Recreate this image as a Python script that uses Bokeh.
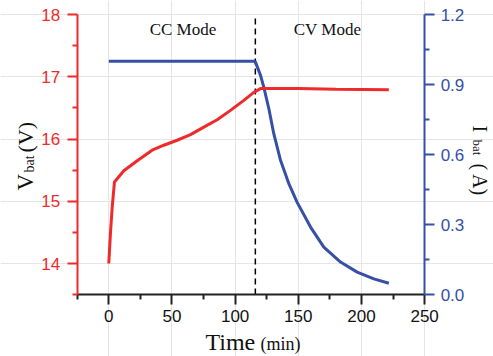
import math
from bokeh.plotting import figure
from bokeh.models import Range1d, LinearAxis, FixedTicker, PrintfTickFormatter, Label
from bokeh.embed import file_html
from bokeh.resources import INLINE

# ---- data ----
v_time = [0, 1.3, 2.7, 4.5, 11.9, 22.5, 34.3, 43.6, 54.1, 64.7, 75.2, 85.8, 96.3, 106.9, 114.8, 120.1, 150, 180, 221.7]
v_bat = [14.0, 14.48, 14.90, 15.31, 15.49, 15.65, 15.82, 15.90, 15.98, 16.07, 16.19, 16.31, 16.46, 16.62, 16.75, 16.81, 16.81, 16.80, 16.79]

i_time = [0, 50, 100, 114.8, 116.1, 120.1, 122.7, 126.7, 130.6, 136.0, 142.6, 149.0, 159.7, 170.2, 183.4, 196.6, 209.8, 221.7]
i_bat = [1.0, 1.0, 1.0, 1.0, 0.996, 0.939, 0.889, 0.796, 0.689, 0.574, 0.474, 0.396, 0.289, 0.203, 0.139, 0.096, 0.067, 0.048]

x_major = [0, 50, 100, 150, 200, 250]
x_minor = [-25, 25, 75, 125, 175, 225]
v_major = [14, 15, 16, 17, 18]
v_minor = [13.5, 14.5, 15.5, 16.5, 17.5]
i_major = [0.0, 0.3, 0.6, 0.9, 1.2]
i_minor = [0.15, 0.45, 0.75, 1.05]
x_lim = (-25, 250)
v_lim = (13.5, 18)
i_lim = (0, 1.2)
mode_switch = 116
mode_labels = ["CC Mode", "CV Mode"]
mode_label_x = [58.7, 173.1]

RED = "#ee2a2a"
BLUE = "#3550a5"
SERIF = "Liberation Serif"
SANS = "Liberation Sans"

# frame covers the whole canvas; axes are pinned at fixed data locations
p = figure(width=493, height=356, output_backend="svg", toolbar_location=None,
           x_range=Range1d(-85.7, 304.5), y_range=Range1d(12.506, 18.225),
           min_border=0, x_axis_location=None, y_axis_location=None)
p.outline_line_color = None
p.extra_y_ranges = {"I": Range1d(-0.2657, 1.26)}


def style(ax, color, label_color, standoff):
    ax.axis_line_width = 2
    ax.axis_line_color = color
    ax.major_tick_line_color = color
    ax.minor_tick_line_color = color
    ax.major_tick_line_width = 2
    ax.minor_tick_line_width = 2
    ax.major_tick_out = 10
    ax.major_tick_in = 0
    ax.minor_tick_out = 5
    ax.minor_tick_in = 0
    ax.major_label_text_font = SANS
    ax.major_label_text_font_size = "17px"
    ax.major_label_text_color = label_color
    ax.major_label_standoff = standoff


xa = LinearAxis(ticker=FixedTicker(ticks=x_major, minor_ticks=x_minor),
                fixed_location=v_lim[0], bounds=x_lim)
style(xa, "#222222", "#111111", 5)
p.add_layout(xa, "below")

ya = LinearAxis(ticker=FixedTicker(ticks=v_major, minor_ticks=v_minor),
                fixed_location=x_lim[0], bounds=v_lim)
style(ya, RED, RED, 7)
p.add_layout(ya, "left")

ra = LinearAxis(y_range_name="I", ticker=FixedTicker(ticks=i_major, minor_ticks=i_minor),
                formatter=PrintfTickFormatter(format="%.1f"),
                fixed_location=x_lim[1], bounds=i_lim)
style(ra, BLUE, BLUE, 6)
p.add_layout(ra, "right")

# dashed mode switch line
p.segment(x0=[mode_switch], y0=[v_lim[0]], x1=[mode_switch], y1=[v_lim[1]],
          line_color="black", line_dash="6 4", line_width=1.5)

# curves
p.line(i_time, i_bat, y_range_name="I", line_color=BLUE, line_width=3)
p.line(v_time, v_bat, line_color=RED, line_width=3)

# mode labels
for txt, xv in zip(mode_labels, mode_label_x):
    p.add_layout(Label(x=xv, y=17.603, text=txt, text_font=SERIF, text_font_size="17px",
                       text_align="center", text_baseline="bottom", text_color="#111111"))


# axis titles (built from pieces for subscripts)
def lab(x, y, text, size, angle=0.0, color="#111111"):
    p.add_layout(Label(x=x, y=y, text=text, text_font=SERIF, text_font_size=size,
                       angle=angle, text_color=color, text_baseline="bottom",
                       text_align="left"))


lab(76.5, 12.533, "Time", "24px")
lab(120.1, 12.554, "(min)", "18px")

lab(-56.4, 15.173, "V", "23px", angle=math.pi / 2)
lab(-57.2, 15.462, "bat", "14px", angle=math.pi / 2)
lab(-56.4, 15.783, "(V)", "22px", angle=math.pi / 2)

lab(285.3, 16.217, "I", "20px", angle=-math.pi / 2)
lab(285.9, 15.992, "bat", "13px", angle=-math.pi / 2)
lab(285.3, 15.606, "( A)", "20px", angle=-math.pi / 2)

open("out.html", "w").write(file_html(p, INLINE))
